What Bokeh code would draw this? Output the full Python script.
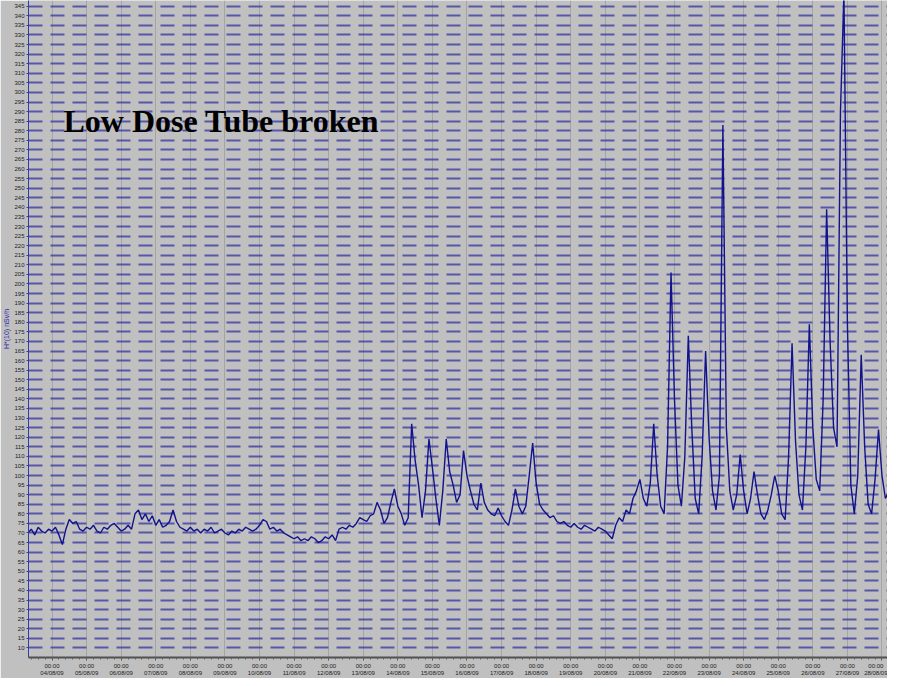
import numpy as np
from bokeh.plotting import figure
from bokeh.models import FixedTicker, Label, Range1d, ColumnDataSource
from bokeh.embed import file_html
from bokeh.resources import INLINE

# ---- data ----
# sample times in days (0 = first labelled midnight), every 0.1 day
t_start, t_stop, t_step = -0.7, 24.2, 0.1

dose_part1 = [70, 72, 69, 73, 71, 70, 72, 71, 73, 69, 64, 72, 77, 75, 76, 72, 71, 73, 72, 74,
              71, 70, 73, 72, 74, 75, 73, 71, 72, 74, 72, 80, 82, 77, 80, 76, 79, 74, 77, 73,
              74, 76, 82, 76, 73, 72, 71, 73, 71, 72, 70, 72, 71, 73, 70, 71, 72, 70, 69, 71,
              70, 72, 71, 73, 72, 71, 72, 74, 77, 76, 72, 73, 71, 72, 70, 69, 68, 67, 68, 66,
              67, 66, 68, 67, 65, 66, 68, 67, 69, 66, 72]
dose_part2 = [73, 72, 74, 73, 75, 78, 77, 76, 79, 80, 86, 82, 75, 78, 86, 93, 84, 80, 74, 78,
              127, 108, 95, 78, 92, 119, 104, 88, 74, 92, 119, 102, 95, 86, 90, 113, 100, 92, 85, 82,
              96, 86, 82, 80, 79, 83, 79, 76, 74, 82, 93, 84, 80, 84, 100, 117, 96, 85, 82, 80,
              78, 79, 76, 75, 76, 74, 73, 75, 73, 72, 74, 73, 72, 71, 73, 72, 71, 69, 67, 74,
              78, 76, 82, 80, 88, 92, 98, 88, 84, 96]
dose_part3 = [127, 100, 84, 80, 115, 206, 140, 95, 84, 110, 173, 125, 88, 80, 110, 165, 120, 92, 82, 100,
              283, 125, 92, 82, 90, 111, 92, 80, 88, 102, 90, 80, 77, 82, 90, 100, 92, 80, 77, 110,
              169, 118, 90, 82, 115, 179, 125, 98, 92, 140, 239, 170, 125, 115, 290, 352, 180, 95, 80, 100,
              163, 115, 85, 80, 98, 124, 100, 88, 92]
dose = dose_part1 + dose_part2 + dose_part3

tick_days = list(range(0, 25))
tick_time = ["00:00"] * 25
tick_date = ["04/08/09", "05/08/09", "06/08/09", "07/08/09", "08/08/09", "09/08/09", "10/08/09",
             "11/08/09", "12/08/09", "13/08/09", "14/08/09", "15/08/09", "16/08/09", "17/08/09",
             "18/08/09", "19/08/09", "20/08/09", "21/08/09", "22/08/09", "23/08/09", "24/08/09",
             "25/08/09", "26/08/09", "27/08/09", "28/08/09"]
y_ticks = list(range(10, 350, 5))

title_text = "Low Dose Tube broken"
y_label = "H*(10) nSv/h"

t = np.round(t_start + t_step * np.arange(len(dose)), 2)
src = ColumnDataSource(dict(t=t, dose=dose))

GRAY = "#c0c0c0"

p = figure(width=887, height=678, output_backend="svg", toolbar_location=None,
           x_range=Range1d(-0.68, 24.16), y_range=Range1d(5, 348),
           min_border_top=0, min_border_right=0, min_border_left=0, min_border_bottom=0)
p.background_fill_color = GRAY
p.border_fill_color = GRAY
p.outline_line_color = None

p.line("t", "dose", source=src, line_color="#12128c", line_width=1.4)

# axes
p.xaxis.ticker = FixedTicker(ticks=tick_days, minor_ticks=list(np.round(np.arange(-0.6, 24.2, 0.2), 1)))
p.xaxis.major_label_overrides = {d: f"{a}\n{b}" for d, a, b in zip(tick_days, tick_time, tick_date)}
p.xaxis.major_label_text_font = "Liberation Sans"
p.xaxis.major_label_text_font_size = "6px"
p.xaxis.major_label_text_color = "#202020"
p.xaxis.axis_line_color = "#505050"
p.xaxis.axis_line_width = 2
p.xaxis.major_tick_line_color = "#505050"
p.xaxis.minor_tick_line_color = "#606060"
p.xaxis.major_tick_out = 3
p.xaxis.major_tick_in = 0
p.xaxis.minor_tick_out = 2
p.xaxis.minor_tick_in = 0
p.xaxis.major_label_standoff = 2

p.yaxis.ticker = FixedTicker(ticks=y_ticks)
p.yaxis.major_label_text_font = "Liberation Sans"
p.yaxis.major_label_text_font_size = "6px"
p.yaxis.major_label_text_color = "#202020"
p.yaxis.axis_line_color = "#3a3aa0"
p.yaxis.axis_line_width = 1
p.yaxis.major_tick_line_color = "#3a3aa0"
p.yaxis.major_tick_out = 2
p.yaxis.major_tick_in = 0
p.yaxis.minor_tick_line_color = None
p.yaxis.major_label_standoff = 2
p.yaxis.axis_label = y_label
p.yaxis.axis_label_text_font = "Liberation Sans"
p.yaxis.axis_label_text_font_size = "7px"
p.yaxis.axis_label_text_font_style = "normal"
p.yaxis.axis_label_text_color = "#2828a8"
p.yaxis.axis_label_standoff = 1

# grids
p.xgrid.ticker = FixedTicker(ticks=tick_days)
p.xgrid.grid_line_color = "#a4a4a4"
p.xgrid.grid_line_width = 1
p.ygrid.ticker = FixedTicker(ticks=y_ticks)
p.ygrid.grid_line_color = "#3c3ca4"
p.ygrid.grid_line_alpha = 0.8
p.ygrid.grid_line_width = 2
p.ygrid.grid_line_dash = "14 8"

p.add_layout(Label(x=0.33, y=285, text=title_text, text_font="Liberation Serif",
                   text_font_style="bold", text_font_size="32px", text_color="#000000",
                   text_baseline="alphabetic"))

open("out.html", "w").write(file_html(p, INLINE))
